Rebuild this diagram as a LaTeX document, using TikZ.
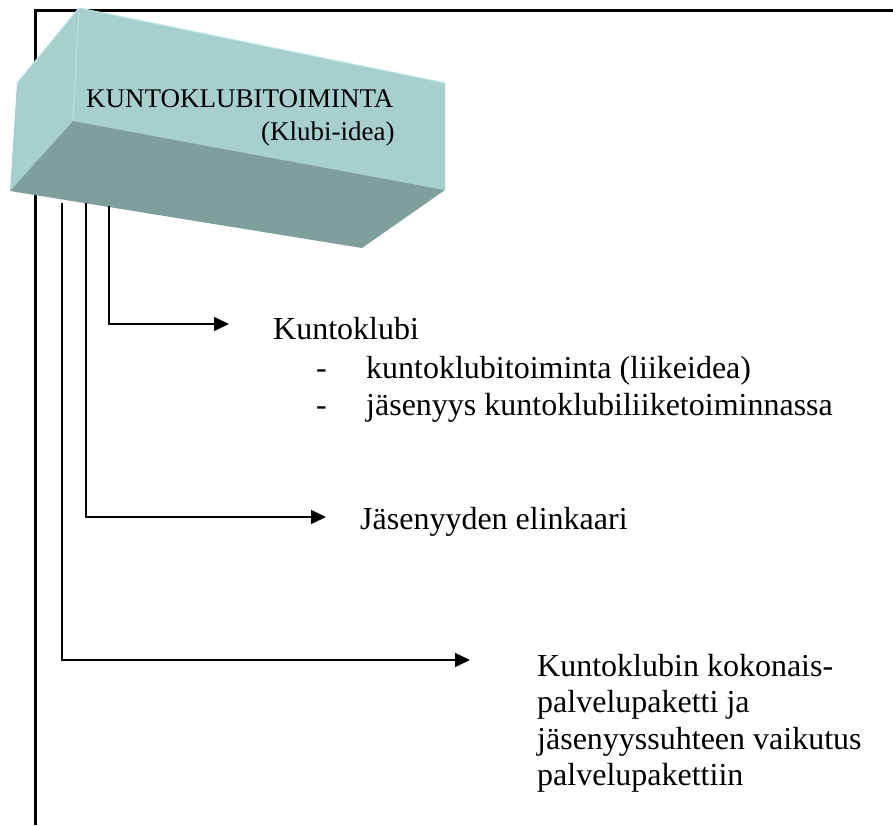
\documentclass[tikz,border=0pt]{standalone}
\usepackage{fontspec}
\setmainfont{Liberation Serif}
\usetikzlibrary{arrows.meta}
\definecolor{boxlight}{HTML}{A6CFCE}
\definecolor{boxdark}{HTML}{7E9F9C}
\definecolor{boxedge}{HTML}{B8E6E6}
\begin{document}
\begin{tikzpicture}[x=1pt,y=-1pt,
  frame/.style={line width=3pt},
  conn/.style={line width=1.5pt,-{Triangle[length=15pt,width=14pt]}},
  bigtext/.style={anchor=base west,inner sep=0pt,font=\fontsize{32}{36.5}\selectfont},
  boxtext/.style={anchor=base west,inner sep=0pt,font=\fontsize{27}{30}\selectfont}]
\useasboundingbox (0,0) rectangle (893,825);
% open frame: top and left edges
\draw[frame] (893,10) -- (35,10) -- (35,825);
% 3D block
\fill[boxlight] (17,83) -- (79,8) -- (73,121) -- (10,191) -- cycle;
\fill[boxlight] (79,8) -- (445,83) -- (445,190) -- (73,121) -- cycle;
\fill[boxdark] (73,121) -- (445,190) -- (362,248) -- (10,191) -- cycle;
\draw[boxedge,line width=1pt] (17,83) -- (79,8) -- (445,83);
\draw[boxedge,line width=0.8pt] (79,8) -- (73,121);
\node[boxtext] (title) at (86,107) {KUNTOKLUBITOIMINTA};
\node[boxtext] (subtitle) at (261,140) {(Klubi-idea)};
% targets
\node[bigtext] (t1) at (273,339) {Kuntoklubi};
\node[bigtext] (d1) at (316,378) {-};
\node[bigtext] (t1a) at (366,378) {kuntoklubitoiminta (liikeidea)};
\node[bigtext] (d2) at (316,415) {-};
\node[bigtext] (t1b) at (366,415) {jäsenyys kuntoklubiliiketoiminnassa};
\node[bigtext] (t2) at (360,529) {Jäsenyyden elinkaari};
\node[bigtext,align=left,anchor=north west] (t3) at (537,654)
  {Kuntoklubin kokonais-\\palvelupaketti ja\\jäsenyyssuhteen vaikutus\\palvelupakettiin};
% connector ends
\coordinate (s1) at (109,206);
\coordinate (s2) at (86,203);
\coordinate (s3) at (62,203);
\coordinate (e1) at (229,324);
\coordinate (e2) at (326,517);
\coordinate (e3) at (470,660);
\draw[conn] (s1) |- (e1);
\draw[conn] (s2) |- (e2);
\draw[conn] (s3) |- (e3);
\end{tikzpicture}
\end{document}
